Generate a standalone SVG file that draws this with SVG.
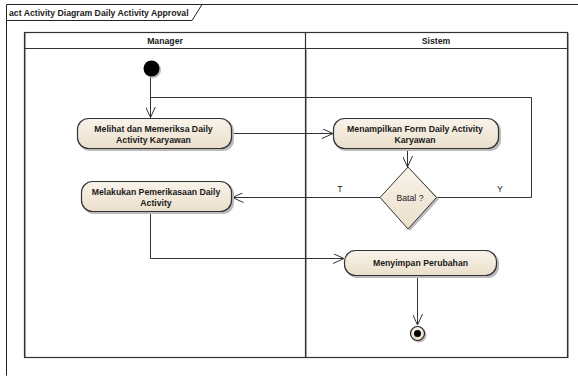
<svg xmlns="http://www.w3.org/2000/svg" width="578" height="376" viewBox="0 0 578 376">
  <style>
    text { font-family: "Liberation Sans", Arial, sans-serif; font-weight: bold; font-size: 8.7px; fill: #1a1a1a; }
    .lbl { font-weight: normal; }
    .frame { fill: none; stroke: #222; stroke-width: 1; }
    .lane { fill: none; stroke: #333; stroke-width: 1.2; }
    .lane-shadow { fill: none; stroke: #aaa; stroke-width: 1; }
    .act { fill: url(#actFill); stroke: #333; stroke-width: 1.2; }
    .shadow { fill: #bbb; }
    .edge { fill: none; stroke: #333; stroke-width: 1; }
  </style>
  <defs>
    <linearGradient id="actFill" x1="0" y1="0" x2="0" y2="1">
      <stop offset="0" stop-color="#f8f3ea"/>
      <stop offset="1" stop-color="#ebdfcb"/>
    </linearGradient>
    <marker id="open" viewBox="0 0 12 10" refX="11" refY="5" markerWidth="12" markerHeight="10" markerUnits="userSpaceOnUse" orient="auto">
      <path d="M0,0 L11,5 L0,10" fill="none" stroke="#333" stroke-width="1"/>
    </marker>
  </defs>

  <rect width="578" height="376" fill="#fff"/>

  <!-- diagram frame and name tab -->
  <g id="frame">
    <path class="frame" d="M6.5,375.5 V4.5 H580"/>
    <path class="frame" d="M6.5,20.5 H192 L202,4.5"/>
    <text x="9" y="15.5">act Activity Diagram Daily Activity Approval</text>
  </g>

  <!-- swimlanes -->
  <g id="lanes">
    <path class="lane-shadow" d="M25.5,33 V358 M306.5,50 V358 M568.5,33 V358"/>
    <rect class="lane" x="24.5" y="32.5" width="543" height="325"/>
    <line class="lane" x1="24.5" y1="48.5" x2="567.5" y2="48.5"/>
    <line class="lane" x1="305.5" y1="32.5" x2="305.5" y2="357.5"/>
    <text x="165" y="43.5" text-anchor="middle">Manager</text>
    <text x="436" y="43.5" text-anchor="middle">Sistem</text>
  </g>

  <!-- connectors -->
  <g id="connectors">
    <path class="edge" d="M150.5,76 V117.5" marker-end="url(#open)"/>
    <path class="edge" d="M436.5,197.5 H531.5 V97.5 H150.5"/>
    <path class="edge" d="M232,133.5 H333" marker-end="url(#open)"/>
    <path class="edge" d="M407.5,149 V167" marker-end="url(#open)"/>
    <path class="edge" d="M380,197.5 H232.5" marker-end="url(#open)"/>
    <path class="edge" d="M150.5,212 V258.5 H344" marker-end="url(#open)"/>
    <path class="edge" d="M417.5,276 V325" marker-end="url(#open)"/>
    <text class="lbl" x="340" y="192" text-anchor="middle">T</text>
    <text class="lbl" x="500" y="192" text-anchor="middle">Y</text>
  </g>

  <!-- initial node -->
  <g id="start">
    <circle cx="153" cy="70" r="8" fill="#bbb"/>
    <circle cx="151.5" cy="68.5" r="8" fill="#000"/>
  </g>

  <g id="melihat">
    <rect class="shadow" x="79" y="120" width="155" height="31" rx="11"/>
    <rect class="act" x="77.5" y="118.5" width="154" height="30" rx="11"/>
    <text x="153.5" y="131.5" text-anchor="middle">Melihat dan Memeriksa Daily</text>
    <text x="153.5" y="142.5" text-anchor="middle">Activity Karyawan</text>
  </g>

  <g id="menampilkan">
    <rect class="shadow" x="335" y="120" width="166" height="31" rx="11"/>
    <rect class="act" x="333.5" y="118.5" width="165" height="30" rx="11"/>
    <text x="415" y="131.5" text-anchor="middle">Menampilkan Form Daily Activity</text>
    <text x="415" y="142.5" text-anchor="middle">Karyawan</text>
  </g>

  <g id="batal">
    <path d="M410,169 L439,199 L410,231 L382,199 Z" fill="#bbb"/>
    <path d="M408,167 L436.5,197.5 L408,229 L380,197.5 Z" fill="url(#actFill)" stroke="#333" stroke-width="1"/>
    <text class="lbl" x="410" y="201" text-anchor="middle">Batal ?</text>
  </g>

  <g id="melakukan">
    <rect class="shadow" x="83" y="183" width="151" height="31" rx="11"/>
    <rect class="act" x="81.5" y="181.5" width="150" height="30" rx="11"/>
    <text x="156" y="194.5" text-anchor="middle">Melakukan Pemerikasaan Daily</text>
    <text x="156" y="205.5" text-anchor="middle">Activity</text>
  </g>

  <g id="menyimpan">
    <rect class="shadow" x="346" y="252" width="153" height="26" rx="11"/>
    <rect class="act" x="344.5" y="250.5" width="152" height="25" rx="11"/>
    <text x="420.5" y="266" text-anchor="middle">Menyimpan Perubahan</text>
  </g>

  <!-- final node -->
  <g id="end">
    <circle cx="419" cy="335" r="7.5" fill="#bbb"/>
    <circle cx="417.5" cy="333.5" r="7" fill="url(#actFill)" stroke="#222" stroke-width="1.2"/>
    <circle cx="417.5" cy="333.5" r="3.5" fill="#000"/>
  </g>
</svg>
